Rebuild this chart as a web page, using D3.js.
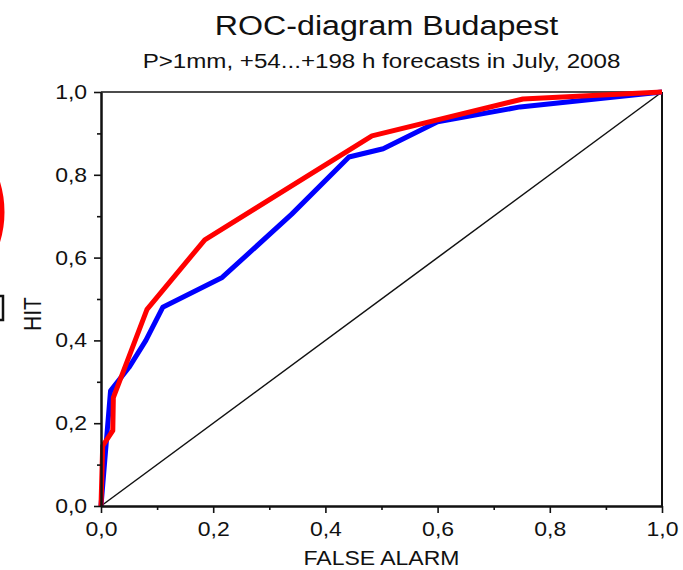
<!DOCTYPE html>
<html>
<head>
<meta charset="utf-8">
<script src="https://cdn.jsdelivr.net/npm/d3@7"></script>
<style>
  body { margin: 0; background: #fff; }
  svg { display: block; }
  text { font-family: "Liberation Sans", Arial, sans-serif; fill: #111; }
  .stretch { transform-box: fill-box; transform-origin: center; transform: scaleX(1.15); }
</style>
</head>
<body>
<div class="roc-container"></div>
<script>
var wi = 683;
var he = 570;
var margin = {top: 92, right: 21, bottom: 63, left: 101};

// values
var majorTicks = [0, 0.2, 0.4, 0.6, 0.8, 1.0];
var minorTicks = [0.1, 0.3, 0.5, 0.7, 0.9];

var falseAlarmBlue = [0, 0.017, 0.05, 0.08, 0.11, 0.216, 0.34, 0.442, 0.503, 0.6, 0.747, 1];
var hitBlue        = [0, 0.278, 0.335, 0.40, 0.48, 0.552, 0.705, 0.843, 0.863, 0.928, 0.964, 1];

var falseAlarmRed = [0, 0.003, 0.021, 0.022, 0.082, 0.185, 0.483, 0.752, 1];
var hitRed        = [0, 0.145, 0.182, 0.262, 0.475, 0.643, 0.894, 0.983, 1];

var diagonal = [[0, 0], [1, 1]];

var blueData = falseAlarmBlue.map(function(d, i) { return [d, hitBlue[i]]; });
var redData = falseAlarmRed.map(function(d, i) { return [d, hitRed[i]]; });

var fmt = function(d) { return d3.format(".1f")(d).replace(".", ","); };

var svg = d3.select(".roc-container")
  .append("svg")
  .attr("width", wi)
  .attr("height", he);

// cropped marks at the left edge of the original
svg.append("circle")
    .attr("cx", -100)
    .attr("cy", 212)
    .attr("r", 102)
    .attr("fill", "none")
    .attr("stroke", "#ff0000")
    .attr("stroke-width", 5);

svg.append("path")
    .attr("d", "M0,296 H3 V320 H0")
    .attr("fill", "none")
    .attr("stroke", "#111")
    .attr("stroke-width", 2.5);

var xScale = d3.scaleLinear()
    .domain([0, 1])
    .range([margin.left, wi - margin.right]);
var yScale = d3.scaleLinear()
    .domain([0, 1])
    .range([he - margin.bottom - 1, margin.top]);

var line = d3.line()
    .x(function(d) { return xScale(d[0]); })
    .y(function(d) { return yScale(d[1]); });

// frame top and right
svg.append("line")
    .attr("x1", xScale(0)).attr("x2", xScale(1))
    .attr("y1", yScale(1)).attr("y2", yScale(1))
    .attr("stroke", "#111").attr("stroke-width", 1.6);
svg.append("line")
    .attr("x1", xScale(1)).attr("x2", xScale(1))
    .attr("y1", yScale(0)).attr("y2", yScale(1))
    .attr("stroke", "#111").attr("stroke-width", 2);

svg.append("path")
    .datum(diagonal)
    .attr("d", line)
    .attr("fill", "none")
    .attr("stroke", "#111")
    .attr("stroke-width", 1.5);

svg.append("path")
    .datum(blueData)
    .attr("d", line)
    .attr("fill", "none")
    .attr("stroke", "#0000ff")
    .attr("stroke-width", 5)
    .attr("stroke-linejoin", "round");

svg.append("path")
    .datum(redData)
    .attr("d", line)
    .attr("fill", "none")
    .attr("stroke", "#ff0000")
    .attr("stroke-width", 5)
    .attr("stroke-linejoin", "round");

// axes
var xAxis = d3.axisBottom(xScale)
    .tickValues(majorTicks)
    .tickFormat(fmt)
    .tickSize(7)
    .tickSizeOuter(0)
    .tickPadding(9);
var xMinor = d3.axisBottom(xScale)
    .tickValues(minorTicks)
    .tickFormat("")
    .tickSize(4)
    .tickSizeOuter(0);
var yAxis = d3.axisLeft(yScale)
    .tickValues(majorTicks)
    .tickFormat(fmt)
    .tickSize(7)
    .tickSizeOuter(0)
    .tickPadding(9);
var yMinor = d3.axisLeft(yScale)
    .tickValues(minorTicks)
    .tickFormat("")
    .tickSize(4)
    .tickSizeOuter(0);

var gx = svg.append("g")
    .attr("transform", "translate(0," + yScale(0) + ")")
    .call(xAxis);
svg.append("g")
    .attr("transform", "translate(0," + yScale(0) + ")")
    .call(xMinor);
var gy = svg.append("g")
    .attr("transform", "translate(" + xScale(0) + ",0)")
    .call(yAxis);
svg.append("g")
    .attr("transform", "translate(" + xScale(0) + ",0)")
    .call(yMinor);

svg.selectAll(".domain").attr("stroke", "#111").attr("stroke-width", 2);
svg.selectAll(".tick line").attr("stroke", "#111").attr("stroke-width", 1.6);
svg.selectAll(".tick text")
    .attr("class", "stretch")
    .style("font-size", "20px")
    .attr("fill", "#111");

// titles
var cx = (xScale(0) + xScale(1)) / 2;

svg.append("text")
    .attr("transform", "translate(" + (cx + 5) + ",35) scale(1.15,1)")
    .attr("text-anchor", "middle")
    .style("font-size", "28px")
    .text("ROC-diagram Budapest");

svg.append("text")
    .attr("transform", "translate(" + cx + ",68) scale(1.15,1)")
    .attr("text-anchor", "middle")
    .style("font-size", "21px")
    .text("P>1mm, +54...+198 h forecasts in July, 2008");

svg.append("text")
    .attr("transform", "translate(" + cx + ",565) scale(1.15,1)")
    .attr("text-anchor", "middle")
    .style("font-size", "20px")
    .text("FALSE ALARM");

svg.append("text")
    .attr("transform", "translate(41,314) scale(1.15,1) rotate(-90)")
    .attr("text-anchor", "middle")
    .style("font-size", "21px")
    .text("HIT");
</script>
</body>
</html>
